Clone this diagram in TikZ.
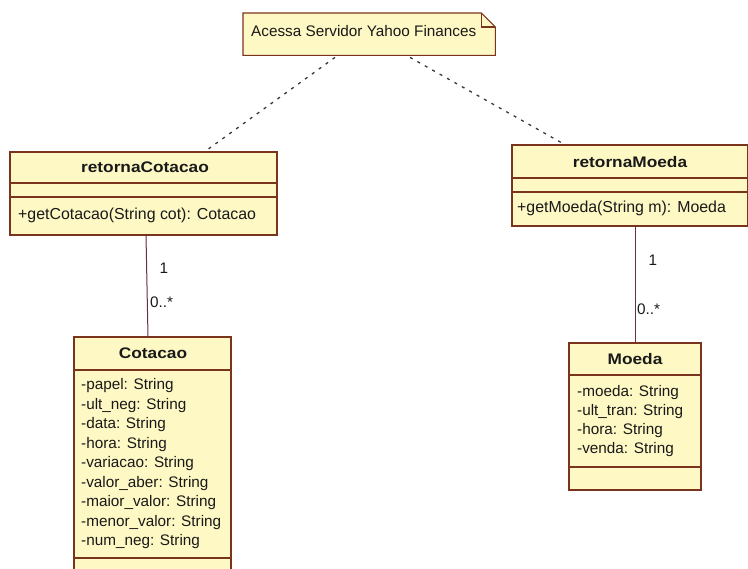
\documentclass[tikz,border=0pt]{standalone}
\usepackage{fontspec}
\setmainfont{Liberation Sans}[BoldFeatures={FakeStretch=1.13}]
\usetikzlibrary{calc}

\definecolor{umlfill}{RGB}{254,248,196}
\definecolor{umlline}{RGB}{122,52,30}
\definecolor{assocline}{RGB}{105,45,60}
\definecolor{notedash}{RGB}{55,55,55}
\definecolor{labeltext}{RGB}{25,25,25}

\begin{document}
\begin{tikzpicture}[x=1pt,y=-1pt,
  umlbox/.style={draw=umlline, fill=umlfill, line width=1.1pt, anchor=north west, inner sep=0pt, outer sep=0pt},
  divider/.style={draw=umlline, line width=1.1pt},
  nametext/.style={font=\fontsize{15.3}{18}\selectfont\bfseries, text=labeltext, inner sep=0pt},
  membertext/.style={font=\fontsize{15.3}{18}\selectfont, text=labeltext, anchor=west, inner sep=0pt},
  optext/.style={membertext, font=\fontsize{15.9}{18}\selectfont},
  multtext/.style={font=\fontsize{15.3}{18}\selectfont, text=labeltext, inner sep=0pt},
  notelink/.style={draw=notedash, line width=1.3pt, dash pattern=on 3pt off 5.5pt},
  assoc/.style={draw=assocline, line width=1pt}]

\useasboundingbox (0,0) rectangle (748,569);
\clip (0,0) rectangle (748,569);

% note with folded corner
\node[anchor=north west, minimum width=252, minimum height=42, inner sep=0pt] (note) at (243,13) {};
\path[fill=umlfill, draw=umlline, line width=1.1pt]
  (note.north west) -- ($(note.north east)+(-14,0)$) -- ($(note.north east)+(0,14)$)
  -- (note.south east) -- (note.south west) -- cycle;
\draw[umlline, line width=1.1pt]
  ($(note.north east)+(-14,0)$) -- ($(note.north east)+(-14,14)$) -- ($(note.north east)+(0,14)$);
\node[membertext] (notetext) at (251,31) {Acessa Servidor Yahoo Finances};

% class retornaCotacao
\node[umlbox, minimum width=267, minimum height=83] (rc) at (10,152) {};
\draw[divider] (rc.west |- 0,183) -- (rc.east |- 0,183);
\draw[divider] (rc.west |- 0,197) -- (rc.east |- 0,197);
\node[nametext] (rcname) at (145,167) {retornaCotacao};
\node[optext] (rcop) at (18,215) {+getCotacao(String cot): Cotacao};

% class retornaMoeda
\node[umlbox, minimum width=236, minimum height=81] (rm) at (512,145) {};
\draw[divider] (rm.west |- 0,178) -- (rm.east |- 0,178);
\draw[divider] (rm.west |- 0,192) -- (rm.east |- 0,192);
\node[nametext] (rmname) at (630,162) {retornaMoeda};
\node[optext] (rmop) at (517,208) {+getMoeda(String m): Moeda};

% class Cotacao
\node[umlbox, minimum width=157, minimum height=250] (cot) at (74,337) {};
\draw[divider] (cot.west |- 0,370) -- (cot.east |- 0,370);
\draw[divider] (cot.west |- 0,558) -- (cot.east |- 0,558);
\node[nametext] (cotname) at (153,353) {Cotacao};
\foreach \attr [count=\i from 0] in {-papel: String, -ult\_neg: String, -data: String,
    -hora: String, -variacao: String, -valor\_aber: String, -maior\_valor: String,
    -menor\_valor: String, -num\_neg: String}
  \node[membertext] (cotattr\i) at (81,386+19.5*\i) {\attr};

% class Moeda
\node[umlbox, minimum width=132, minimum height=147] (mo) at (569,343) {};
\draw[divider] (mo.west |- 0,375) -- (mo.east |- 0,375);
\draw[divider] (mo.west |- 0,467) -- (mo.east |- 0,467);
\node[nametext] (moname) at (635,359) {Moeda};
\foreach \attr [count=\i from 0] in {-moeda: String, -ult\_tran: String, -hora: String, -venda: String}
  \node[membertext] (moattr\i) at (577,393+19*\i) {\attr};

% note links
\draw[notelink] ($(note.south west)+(92,2)$) -- ($(rc.north west)+(197,-2)$);
\draw[notelink] ($(note.south west)+(167,2)$) -- ($(rm.north west)+(50,-2)$);

% associations
\draw[assoc] (rc.south -| 146,0) -- (cot.north -| 148,0);
\draw[assoc] (rm.south -| 635,0) -- (mo.north -| 635,0);
\node[multtext] (rcone) at (164,268) {1};
\node[multtext, anchor=west] (cotmany) at (150,302) {0..*};
\node[multtext] (rmone) at (653,260) {1};
\node[multtext, anchor=west] (momany) at (637,309) {0..*};
\end{tikzpicture}
\end{document}
